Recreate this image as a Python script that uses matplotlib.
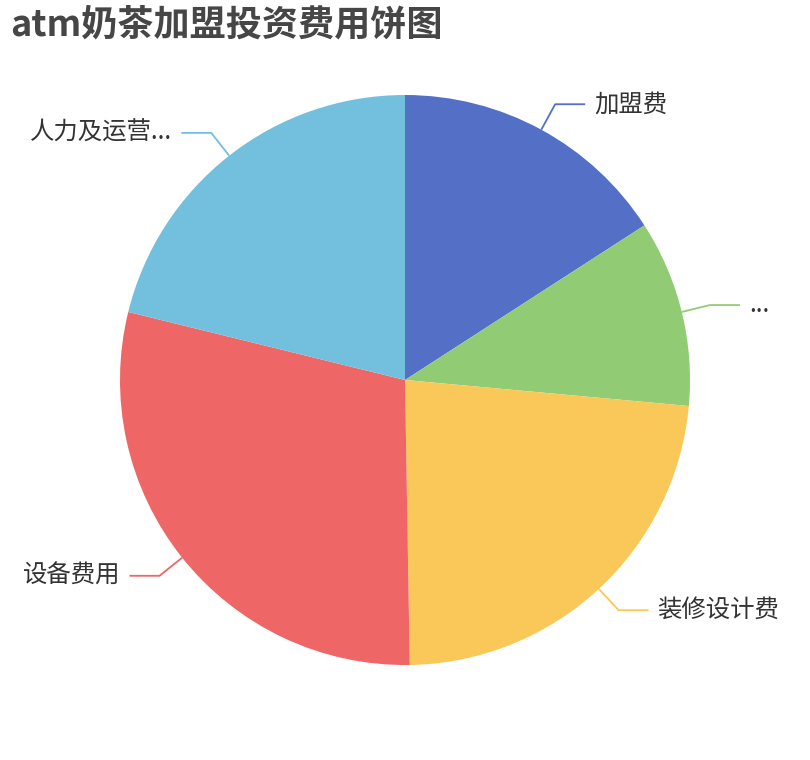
import matplotlib
matplotlib.use("Agg")
import matplotlib.pyplot as plt
import numpy as np

plt.rcParams['font.family'] = ['Noto Sans CJK SC', 'DejaVu Sans']

# données (en 万元)
categories = ['加盟费', '...', '装修设计费', '设备费用', '人力及运营...']
valeurs = [3.0, 2.0, 4.4, 5.5, 4.0]
couleurs = ['#5470c6', '#91cc75', '#fac858', '#ee6666', '#73c0de']

W, H = 810, 760
cx, cy, r = 405, 380, 285

fig = plt.figure(figsize=(W / 100, H / 100), dpi=100)
ax = fig.add_axes([0, 0, 1, 1])

wedges, _ = ax.pie(valeurs, colors=couleurs, startangle=90, counterclock=False,
                   radius=r, center=(cx, cy), wedgeprops=dict(linewidth=0))

ax.set_xlim(0, W)
ax.set_ylim(0, H)
ax.set_aspect('equal')
ax.axis('off')

# étiquettes avec lignes de rappel
for w, nom, c in zip(wedges, categories, couleurs):
    ang = np.deg2rad((w.theta1 + w.theta2) / 2)
    x0, y0 = cx + r * np.cos(ang), cy + r * np.sin(ang)
    x1, y1 = cx + (r + 29) * np.cos(ang), cy + (r + 29) * np.sin(ang)
    sens = 1 if np.cos(ang) >= 0 else -1
    x2 = x1 + sens * 30
    ax.plot([x0, x1, x2], [y0, y1, y1], color=c, lw=1.3, solid_capstyle='butt')
    ax.text(x2 + sens * 9, y1, nom, fontsize=17.6, color='#333333',
            ha='left' if sens > 0 else 'right', va='center')

fig.text(10 / W, 1 - 25 / H, 'atm奶茶加盟投资费用饼图', fontsize=26,
         fontweight='bold', color='#464646', ha='left', va='center')

fig.savefig('out.png', dpi=100)
plt.close()
